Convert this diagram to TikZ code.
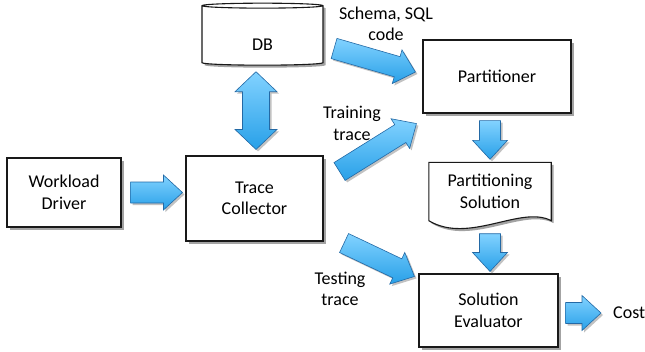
\documentclass[tikz,border=0pt]{standalone}
\usepackage{fontspec}
\setmainfont{Carlito}
\usepackage{xcolor}
\usepackage{tikz}
\usetikzlibrary{shapes,shadows,calc}

\definecolor{arrlight}{RGB}{130,210,255}
\definecolor{arrdark}{RGB}{40,160,232}
\definecolor{arrline}{RGB}{35,105,165}

% block arrow from #1 (tail) to #2 (tip)
\newcommand\fatarrow[2]{%
  \path[fatarr] let \p1=(#1), \p2=(#2),
      \n1={atan2(\y2-\y1,\x2-\x1)}, \n2={veclen(\x2-\x1,\y2-\y1)},
      \n3={\n2-19pt} in
    [shift={(\p1)}, rotate=\n1]
    (0pt,-10.5pt) -- (\n3,-10.5pt) -- (\n3,-17.5pt) -- (\n2,0pt)
    -- (\n3,17.5pt) -- (\n3,10.5pt) -- (0pt,10.5pt) -- cycle;}
% block arrow with two heads
\newcommand\fatdouble[2]{%
  \path[fatarr] let \p1=(#1), \p2=(#2),
      \n1={atan2(\y2-\y1,\x2-\x1)}, \n2={veclen(\x2-\x1,\y2-\y1)},
      \n3={\n2-20pt} in
    [shift={(\p1)}, rotate=\n1]
    (0pt,0pt) -- (20pt,-21pt) -- (20pt,-13.5pt) -- (\n3,-13.5pt)
    -- (\n3,-21pt) -- (\n2,0pt) -- (\n3,21pt) -- (\n3,13.5pt)
    -- (20pt,13.5pt) -- (20pt,21pt) -- cycle;}

\begin{document}
\begin{tikzpicture}[
  x=1pt, y=-1pt,
  font=\fontsize{18}{21.5}\selectfont,
  box/.style={rectangle, draw=black!90, line width=1.1pt, fill=white,
              align=center, inner sep=2pt,
              drop shadow={shadow xshift=2.5pt, shadow yshift=-2.5pt,
                           fill=black!45, opacity=0.8}},
  dbnode/.style={box, cylinder, shape border rotate=90, aspect=0.2},
  docnode/.style={rectangle, align=center, inner sep=0pt,
                  minimum width=122, minimum height=58},
  docline/.style={draw=black!90, line width=1.1pt, fill=white,
                  drop shadow={shadow xshift=2.5pt, shadow yshift=-2.5pt,
                               fill=black!45, opacity=0.8}},
  fatarr/.style={draw=arrline, line width=0.6pt,
                 top color=arrlight, bottom color=arrdark,
                 drop shadow={shadow xshift=2pt, shadow yshift=-2pt,
                              fill=black!40, opacity=0.6}},
  lbl/.style={align=center, inner sep=1pt}
]
\useasboundingbox (0,0) rectangle (645,351);

\node[box, minimum width=114, minimum height=69] (wd) at (64,192.5) {Workload\\Driver};
\node[box, minimum width=137, minimum height=85] (tc) at (254.5,198.5) {Trace\\Collector};
\node[dbnode, minimum width=121, minimum height=62] (db) at (262.5,36) {\raisebox{-14pt}[0pt][0pt]{DB}};
\node[box, minimum width=148, minimum height=73] (pt) at (497,76.5) {Partitioner};
\node[docnode] (ps) at (490,191.5) {};
\draw[docline] (ps.south west) -- (ps.north west) -- (ps.north east) -- (ps.south east)
  .. controls +(-30,-16) and +(40,24) .. (ps.south west) -- cycle;
\node[docnode] (pstext) at (ps.center) {Partitioning\\Solution};
\node[box, minimum width=139, minimum height=73] (se) at (488.5,310.5) {Solution\\Evaluator};
\node[anchor=west, inner sep=3pt] (cost) at (610,313) {Cost};

\node[lbl] (schema) at (386,24) {Schema, SQL\\code};
\node[lbl] (train)  at (352,123.5) {Training\\trace};
\node[lbl] (test)   at (340,289) {Testing\\trace};

\fatarrow{$(wd.east)+(9,0)$}{$(tc.west |- wd.east)+(-3,0)$}
\fatdouble{$(tc.north)+(1.5,-6)$}{$(tc.north |- db.south)+(1.5,6)$}
\fatarrow{$(db.east)+(10.5,12.5)$}{$(pt.west)+(-7,-4.5)$}
\fatarrow{$(tc.east)+(16,-27)$}{$(pt.south west)+(-6,10)$}
\fatarrow{$(tc.south east)+(20.5,1.5)$}{$(se.north west)+(-4,3)$}
\fatarrow{$(ps.north |- pt.south)+(0,7)$}{$(ps.north)+(0,-3)$}
\fatarrow{$(ps.south)+(0,13)$}{$(ps.south |- se.north)+(0,-2)$}
\fatarrow{$(se.east |- cost.west)+(7,0)$}{$(cost.west)+(-9,0)$}
\end{tikzpicture}
\end{document}
